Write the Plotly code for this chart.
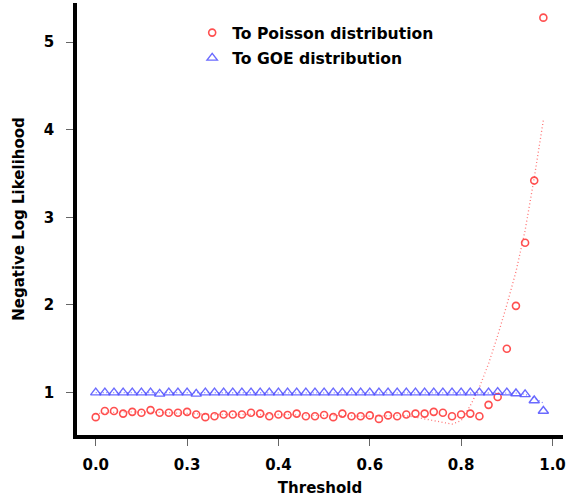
import plotly.graph_objects as go

threshold = [0.00, 0.02, 0.04, 0.06, 0.08, 0.10, 0.12, 0.14, 0.16, 0.18,
             0.20, 0.22, 0.24, 0.26, 0.28, 0.30, 0.32, 0.34, 0.36, 0.38,
             0.40, 0.42, 0.44, 0.46, 0.48, 0.50, 0.52, 0.54, 0.56, 0.58,
             0.60, 0.62, 0.64, 0.66, 0.68, 0.70, 0.72, 0.74, 0.76, 0.78,
             0.80, 0.82, 0.84, 0.86, 0.88, 0.90, 0.92, 0.94, 0.96, 0.98]

poisson_nll = [0.72, 0.79, 0.79, 0.76, 0.78, 0.77, 0.80, 0.77, 0.77, 0.77,
               0.78, 0.75, 0.72, 0.73, 0.75, 0.75, 0.75, 0.77, 0.76, 0.73,
               0.75, 0.745, 0.76, 0.73, 0.73, 0.745, 0.72, 0.76, 0.73, 0.73,
               0.74, 0.70, 0.74, 0.73, 0.75, 0.76, 0.76, 0.78, 0.77, 0.73,
               0.75, 0.76, 0.73, 0.86, 0.95, 1.50, 1.99, 2.71, 3.42, 5.28]

poisson_fit = [0.76, 0.77, 0.775, 0.78, 0.78, 0.78, 0.78, 0.775, 0.77, 0.765,
               0.76, 0.755, 0.75, 0.75, 0.75, 0.75, 0.755, 0.755, 0.755, 0.75,
               0.75, 0.75, 0.745, 0.74, 0.74, 0.74, 0.74, 0.74, 0.735, 0.73,
               0.73, 0.73, 0.735, 0.74, 0.735, 0.72, 0.70, 0.685, 0.665, 0.64,
               0.68, 0.85, 1.06, 1.33, 1.65, 2.00, 2.38, 2.85, 3.45, 4.11]

goe_nll = [1.00, 1.00, 1.00, 1.00, 1.00, 1.00, 1.00, 0.985, 1.00, 1.00,
           1.00, 0.985, 1.00, 1.00, 1.00, 1.00, 1.00, 1.00, 1.00, 1.00,
           1.00, 1.00, 1.00, 1.00, 1.00, 1.00, 1.00, 1.00, 1.00, 1.00,
           1.00, 1.00, 1.00, 1.00, 1.00, 1.00, 1.00, 1.00, 1.00, 1.00,
           1.00, 1.00, 1.00, 1.00, 1.005, 1.00, 0.99, 0.98, 0.91, 0.79]

goe_fit = [1.00, 1.00, 1.00, 1.00, 1.00, 1.00, 1.00, 1.00, 1.00, 1.00,
           1.00, 1.00, 1.00, 1.00, 1.00, 1.00, 1.00, 1.00, 1.00, 1.00,
           1.00, 1.00, 1.00, 1.00, 1.00, 1.00, 1.00, 1.00, 1.00, 1.00,
           1.00, 1.00, 1.00, 1.00, 1.00, 1.00, 1.00, 1.00, 1.00, 1.00,
           1.00, 1.00, 1.00, 1.00, 1.00, 1.00, 0.995, 0.98, 0.94, 0.88]

x_tickvals = [0.0, 0.2, 0.4, 0.6, 0.8, 1.0]
x_ticktext = ["0.0", "0.3", "0.4", "0.6", "0.8", "1.0"]
y_tickvals = [1, 2, 3, 4, 5]

RED = "rgba(255,60,60,0.9)"
BLUE = "rgba(80,80,255,0.85)"
FONT = "DejaVu Sans"

fig = go.Figure()
fig.add_trace(go.Scatter(x=threshold, y=poisson_fit, mode="lines",
                         line=dict(color="rgba(255,80,80,0.8)", width=1.3, dash="1px,2.5px"),
                         showlegend=False, hoverinfo="skip"))
fig.add_trace(go.Scatter(x=threshold, y=goe_fit, mode="lines",
                         line=dict(color="rgba(80,80,255,0.7)", width=1.3, dash="1px,2.5px"),
                         showlegend=False, hoverinfo="skip"))
fig.add_trace(go.Scatter(x=threshold, y=poisson_nll, mode="markers",
                         name="To Poisson distribution", legendgroup="p",
                         marker=dict(symbol="circle-open", size=7, color=RED,
                                     line=dict(width=1.6, color=RED))))
fig.add_trace(go.Scatter(x=threshold, y=goe_nll, mode="markers",
                         name="To GOE distribution", legendgroup="g",
                         marker=dict(symbol="triangle-up-open", size=9, color=BLUE,
                                     line=dict(width=1.4, color=BLUE))))

fig.update_layout(
    width=568, height=499,
    margin=dict(l=77, r=5, t=3, b=64),
    paper_bgcolor="white", plot_bgcolor="white",
    font=dict(family=FONT, size=15, color="black", weight="bold"),
    legend=dict(x=0.237, y=0.970, xanchor="left", yanchor="top",
                bgcolor="rgba(0,0,0,0)", tracegroupgap=2,
                font=dict(family=FONT, size=15.6, color="black", weight="bold")),
    xaxis=dict(range=[-0.041, 1.023], tickvals=x_tickvals, ticktext=x_ticktext,
               showgrid=False, zeroline=False, showline=True, linewidth=3.5,
               linecolor="black", ticks="outside", ticklen=7, tickwidth=1,
               tickcolor="#666", ticklabelstandoff=6,
               title=dict(text="Threshold", standoff=11,
                          font=dict(family=FONT, size=15, weight="bold"))),
    yaxis=dict(range=[0.516, 5.447], tickvals=y_tickvals,
               showgrid=False, zeroline=False, showline=True, linewidth=3.5,
               linecolor="black", ticks="outside", ticklen=7, tickwidth=1,
               tickcolor="#666", ticklabelstandoff=9,
               title=dict(text="Negative Log Likelihood", standoff=17,
                          font=dict(family=FONT, size=15, weight="bold"))),
)

fig.write_html("out.html", config={"displayModeBar": False},
               post_script="document.body.style.margin='0px';document.body.style.padding='0px';")
